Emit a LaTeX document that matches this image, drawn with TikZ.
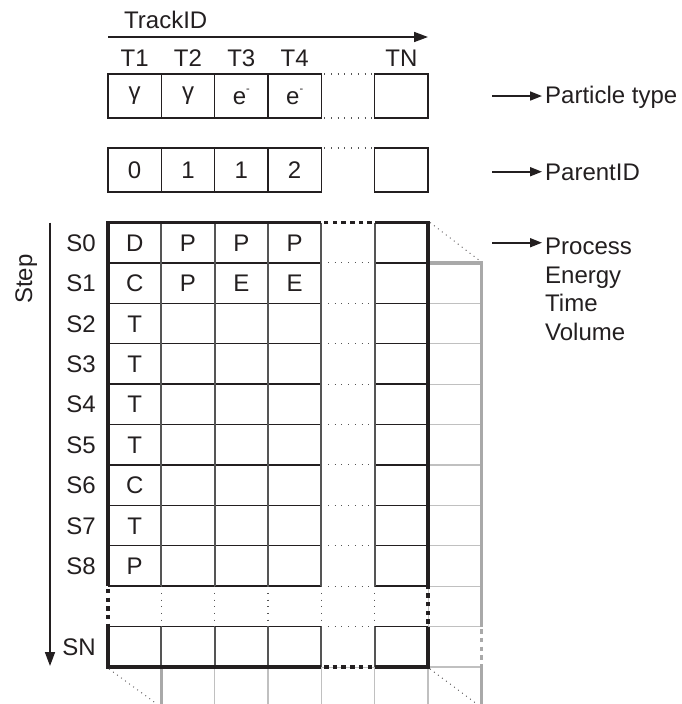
\documentclass[tikz,border=0pt]{standalone}
\usepackage{fontspec}
\setmainfont{Liberation Sans}
\usetikzlibrary{arrows.meta}
\definecolor{ink}{HTML}{231F20}
\definecolor{midgrey}{HTML}{555555}
\definecolor{lightgrey}{HTML}{C0C0C0}
\definecolor{backgrey}{HTML}{A9A9A9}
\def\GX{108}
\def\GW{53.333}
\def\GY{222.5}
\def\GH{40.4}
\begin{document}
\begin{tikzpicture}[x=1pt,y=-1pt,font=\fontsize{24}{28}\selectfont,
 every node/.style={text=ink},
 border/.style={line width=3.4pt,draw=ink},
 borderdot/.style={line width=3.4pt,draw=ink,dash pattern=on 4.5pt off 4.2pt,dash phase=6pt},
 hsep/.style={line width=1.5pt,draw=ink},
 vsep/.style={line width=1.7pt,draw=midgrey},
 gapdot/.style={line width=1.1pt,draw=midgrey,dash pattern=on 1pt off 5.7pt},
 backline/.style={line width=1.2pt,draw=lightgrey},
 backborder/.style={line width=3.4pt,draw=backgrey},
 backborderdot/.style={line width=3.4pt,draw=backgrey,dash pattern=on 4.5pt off 4.2pt,dash phase=6pt},
 diag/.style={line width=0.9pt,draw=ink!75,dash pattern=on 1pt off 4pt},
 thinbox/.style={line width=1.3pt,draw=ink},
 cell/.style={inner sep=0pt,text height=17.2pt,text depth=0pt,anchor=center},
 lbl/.style={inner sep=0pt,anchor=base},
 arr/.style={line width=1.7pt,draw=ink,-{Triangle[length=14pt,width=10pt]}},
 sidearr/.style={line width=1.7pt,draw=ink,-{Triangle[length=12pt,width=9pt]}}
]
\useasboundingbox (0,0) rectangle (681,704);
\fill[white] (0,0) rectangle (681,704);

% ---------- back layer (shifted one cell) ----------
\foreach \j in {1,...,10} {
  \draw[backline] ({\GX+\GW},{\GY+(\j+1)*\GH}) -- ({\GX+7*\GW},{\GY+(\j+1)*\GH});
}
\foreach \i in {1,...,5} {
  \draw[backline] ({\GX+(\i+1)*\GW},{\GY+\GH}) -- ({\GX+(\i+1)*\GW},{\GY+12*\GH});
}
\draw[backborder] ({\GX+\GW},{\GY+12*\GH}) -- ({\GX+\GW},{\GY+\GH}) -- ({\GX+7*\GW},{\GY+\GH}) -- ({\GX+7*\GW},{\GY+10*\GH});
\draw[backborderdot] ({\GX+7*\GW},{\GY+10*\GH}) -- ({\GX+7*\GW},{\GY+11*\GH});
\draw[backborder] ({\GX+7*\GW},{\GY+11*\GH}) -- ({\GX+7*\GW},{\GY+12*\GH});

% ---------- main layer ----------
\fill[white] (\GX,\GY) rectangle ({\GX+6*\GW},{\GY+11*\GH});
\foreach \j in {1,...,10} {
  \draw[hsep] (\GX,{\GY+\j*\GH}) -- ({\GX+4*\GW},{\GY+\j*\GH});
  \draw[gapdot] ({\GX+4*\GW},{\GY+\j*\GH}) -- ({\GX+5*\GW},{\GY+\j*\GH});
  \draw[hsep] ({\GX+5*\GW},{\GY+\j*\GH}) -- ({\GX+6*\GW},{\GY+\j*\GH});
}
\foreach \i in {1,...,5} {
  \draw[vsep] ({\GX+\i*\GW},\GY) -- ({\GX+\i*\GW},{\GY+9*\GH});
  \draw[gapdot] ({\GX+\i*\GW},{\GY+9*\GH}) -- ({\GX+\i*\GW},{\GY+10*\GH});
  \draw[vsep] ({\GX+\i*\GW},{\GY+10*\GH}) -- ({\GX+\i*\GW},{\GY+11*\GH});
}
\draw[border] ({\GX+4*\GW},\GY) -- (\GX,\GY) -- (\GX,{\GY+9*\GH});
\draw[borderdot] (\GX,{\GY+9*\GH}) -- (\GX,{\GY+10*\GH});
\draw[border] (\GX,{\GY+10*\GH}) -- (\GX,{\GY+11*\GH}) -- ({\GX+4*\GW},{\GY+11*\GH});
\draw[borderdot] ({\GX+4*\GW},{\GY+11*\GH}) -- ({\GX+5*\GW},{\GY+11*\GH});
\draw[border] ({\GX+5*\GW},{\GY+11*\GH}) -- ({\GX+6*\GW},{\GY+11*\GH}) -- ({\GX+6*\GW},{\GY+10*\GH});
\draw[borderdot] ({\GX+6*\GW},{\GY+10*\GH}) -- ({\GX+6*\GW},{\GY+9*\GH});
\draw[border] ({\GX+6*\GW},{\GY+9*\GH}) -- ({\GX+6*\GW},\GY) -- ({\GX+5*\GW},\GY);
\draw[borderdot] ({\GX+5*\GW},\GY) -- ({\GX+4*\GW},\GY);

% diagonals
\draw[diag] ({\GX+6*\GW+2},\GY) -- ({\GX+7*\GW},{\GY+\GH-1});
\draw[diag] ({\GX+1},{\GY+11*\GH+2}) -- ({\GX+\GW},{\GY+12*\GH});
\draw[diag] ({\GX+6*\GW+2},{\GY+11*\GH+2}) -- ({\GX+7*\GW},{\GY+12*\GH});

% ---------- top rows ----------
\foreach \i in {0,1,2,3,5} {
  \draw[thinbox] ({\GX+\i*\GW},74) rectangle ({\GX+(\i+1)*\GW},118);
  \draw[thinbox] ({\GX+\i*\GW},148) rectangle ({\GX+(\i+1)*\GW},192);
}
\draw[gapdot] ({\GX+4*\GW+3},74) -- ({\GX+5*\GW},74);
\draw[gapdot] ({\GX+4*\GW+3},118) -- ({\GX+5*\GW},118);
\draw[gapdot] ({\GX+4*\GW+3},148) -- ({\GX+5*\GW},148);

% ---------- texts ----------
\node[lbl,anchor=base west] (trackid) at (124,28.3) {TrackID};
\coordinate (tr-start) at (\GX,37);
\coordinate (tr-end) at ({\GX+6*\GW},37);
\draw[arr] (tr-start) -- (tr-end);
\foreach \i/\t in {0/T1,1/T2,2/T3,3/T4,5/TN}
  \node[lbl] (h\i) at ({\GX+(\i+0.5)*\GW},66.7) {\t};

\node[cell] (p0) at ({\GX+0.5*\GW},96) {\raisebox{0.21em}{γ}};
\node[cell] (p1) at ({\GX+1.5*\GW},96) {\raisebox{0.21em}{γ}};
\node[cell] (p2) at ({\GX+2.5*\GW},96) {e\raisebox{0.5em}{\fontsize{11}{11}\selectfont -}};
\node[cell] (p3) at ({\GX+3.5*\GW},96) {e\raisebox{0.5em}{\fontsize{11}{11}\selectfont -}};
\foreach \i/\t in {0/0,1/1,2/1,3/2}
  \node[cell] (q\i) at ({\GX+(\i+0.5)*\GW},170) {\t};

\foreach \r/\t in {0/D,1/C,2/T,3/T,4/T,5/T,6/C,7/T,8/P}
  \node[cell] (c\r-0) at ({\GX+0.5*\GW},{\GY+(\r+0.5)*\GH}) {\t};
\node[cell] (c0-1) at ({\GX+1.5*\GW},{\GY+0.5*\GH}) {P};
\node[cell] (c0-2) at ({\GX+2.5*\GW},{\GY+0.5*\GH}) {P};
\node[cell] (c0-3) at ({\GX+3.5*\GW},{\GY+0.5*\GH}) {P};
\node[cell] (c1-1) at ({\GX+1.5*\GW},{\GY+1.5*\GH}) {P};
\node[cell] (c1-2) at ({\GX+2.5*\GW},{\GY+1.5*\GH}) {E};
\node[cell] (c1-3) at ({\GX+3.5*\GW},{\GY+1.5*\GH}) {E};

\foreach \r/\t in {0/S0,1/S1,2/S2,3/S3,4/S4,5/S5,6/S6,7/S7,8/S8,10/SN}
  \node[lbl,anchor=base east] (s\r) at (96,{\GY+(\r+0.5)*\GH+8.6}) {\t};

\node[lbl,rotate=90] (step) at (32,279) {Step};
\coordinate (st-start) at (50,\GY);
\coordinate (st-end) at (50,666);
\draw[arr] (st-start) -- (st-end);

% right side labels
\node[lbl,anchor=base west,inner sep=3pt] (ptype) at (542,103.5) {Particle type};
\node[lbl,anchor=base west,inner sep=3pt] (parent) at (542,180) {ParentID};
\node[lbl,anchor=base west,inner sep=3pt] (proc) at (542,254.5) {Process};
\node[lbl,anchor=base west] (energy) at (545,283) {Energy};
\node[lbl,anchor=base west] (time) at (545,311.5) {Time};
\node[lbl,anchor=base west] (volume) at (545,340) {Volume};
\coordinate (pt-tail) at (492,96);
\coordinate (pa-tail) at (492,171.7);
\coordinate (pr-tail) at (492,242.7);
\draw[sidearr] (pt-tail) -- (pt-tail -| ptype.west);
\draw[sidearr] (pa-tail) -- (pa-tail -| parent.west);
\draw[sidearr] (pr-tail) -- (pr-tail -| proc.west);
\end{tikzpicture}
\end{document}
